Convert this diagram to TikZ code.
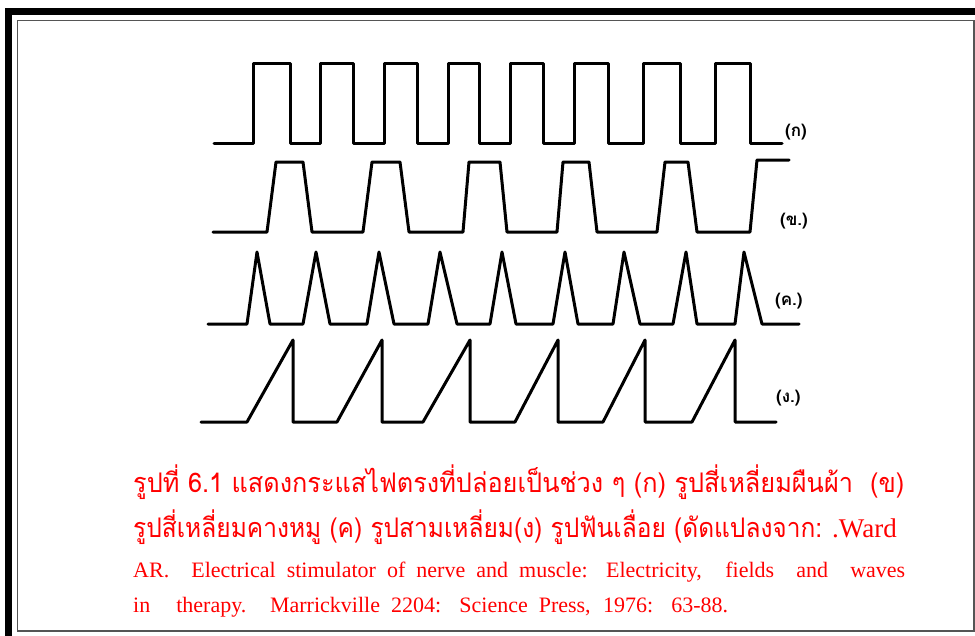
\documentclass[tikz,border=0pt]{standalone}
\usepackage{fontspec}
\setmainfont{Liberation Serif}
\newfontfamily\thaifont[Script=Thai]{Loma}
\newfontfamily\latinserif{Liberation Serif}
\definecolor{capred}{RGB}{255,0,0}
\definecolor{framegray}{RGB}{85,85,85}
\begin{document}
\begin{tikzpicture}[x=1pt,y=-1pt,
  wave/.style={line width=3pt,line join=round,line cap=round,black},
  wlabel/.style={font=\thaifont\bfseries\fontsize{17}{17}\selectfont,inner sep=0pt,anchor=west},
  capline/.style={font=\latinserif\fontsize{22}{22}\selectfont,text=capred,inner sep=0pt,anchor=base west},
  thcap/.style={font=\thaifont\fontsize{27}{27}\selectfont,text=capred,inner sep=0pt,anchor=base west}]
\useasboundingbox (0,0) rectangle (975,635);
\clip (0,0) rectangle (975,635);
% frames
\draw[line width=7pt,black] (8.5,11.5) rectangle (1000,660);
\draw[line width=1.5pt,framegray] (17.5,20.5) rectangle (973.8,631);
% (ก) square
\draw[wave] (214,143)--(253,143)--(253,63)--(290,63)--(290,143)--(320,143)--(320,63)--(353,63)--(353,143)--(384,143)--(384,63)--(417,63)--(417,143)--(448,143)--(448,63)--(479,63)--(479,143)--(510,143)--(510,63)--(543,63)--(543,143)--(574,143)--(574,63)--(608,63)--(608,143)--(643,143)--(643,63)--(680,63)--(680,143)--(715,143)--(715,63)--(750,63)--(750,143)--(782,143);
% (ข) trapezoid
\draw[wave] (213,232)--(267,232)--(276,162)--(303,162)--(312,232)--(363,232)--(372,162)--(400,162)--(409,232)--(463,232)--(469,162)--(500,162)--(507,232)--(557,232)--(563,162)--(589,162)--(597,232)--(657,232)--(665,162)--(688,162)--(697,232)--(750,232)--(757,160)--(789,160);
% (ค) triangle
\draw[wave] (208,324)--(247,324)--(257,252)--(270,324)--(303,324)--(316,252)--(330,324)--(367,324)--(379,252)--(394,324)--(428,324)--(440,252)--(457,324)--(490,324)--(502,252)--(516,324)--(553,324)--(565,252)--(578,324)--(613,324)--(624,252)--(640,324)--(673,324)--(686,252)--(697,324)--(735,324)--(744,252)--(762,324)--(799,324);
% (ง) sawtooth
\draw[wave] (201,422)--(247,422)--(293,340)--(293,422)--(337,422)--(382,340)--(382,422)--(423,422)--(470,340)--(470,422)--(515,422)--(558,340)--(558,422)--(603,422)--(645,340)--(645,422)--(692,422)--(735,340)--(735,422)--(776,422);
% labels
\node[wlabel] (la) at (785,132) {(ก)};
\node[wlabel] (lb) at (780,221) {(ข.)};
\node[wlabel] (lc) at (775,301) {(ค.)};
\node[wlabel] (ld) at (776,398) {(ง.)};
% caption
\node[thcap] (c1) at (133,492) {\resizebox{771pt}{\height}{รูปที่ 6.1 แสดงกระแสไฟตรงที่ปล่อยเป็นช่วง ๆ (ก) รูปสี่เหลี่ยมผืนผ้า \ (ข)}};
\node[thcap] (c2) at (133,537) {\resizebox{689pt}{\height}{รูปสี่เหลี่ยมคางหมู (ค) รูปสามเหลี่ยม(ง) รูปฟันเลื่อย (ดัดแปลงจาก:}};
\node[capline,font=\latinserif\fontsize{27}{27}\selectfont] (c2b) at (832,537) {.Ward};
\node[capline] (c3) at (133,577) {\makebox[772pt][s]{AR. \ Electrical stimulator of nerve and muscle: Electricity, \ fields \ and \ waves}};
\node[capline] (c4) at (133,612) {\makebox[595pt][s]{in\hspace{26pt}therapy. Marrickville 2204: Science Press, 1976: 63-88.}};
\end{tikzpicture}
\end{document}
